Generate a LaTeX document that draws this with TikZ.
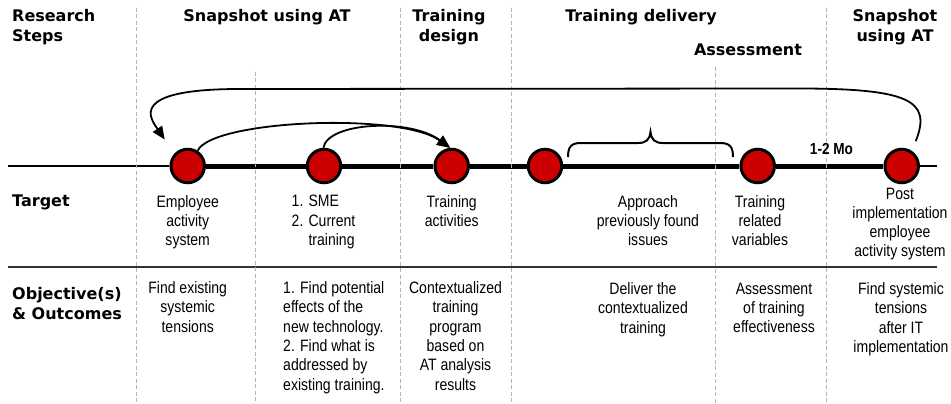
\documentclass[tikz,border=0pt]{standalone}
\usepackage{fontspec}
\setmainfont{Liberation Sans}
\newfontfamily\narrowfont[FakeStretch=0.85]{Liberation Sans}
\newfontfamily\headfont{DejaVu Sans}
\usetikzlibrary{arrows.meta}
\definecolor{dotred}{HTML}{CC0000}
\definecolor{gridcol}{HTML}{A9B6C8}
\definecolor{sepcol}{HTML}{333333}
\tikzset{
  hdr/.style={font=\headfont\bfseries\fontsize{16}{20}\selectfont, inner sep=0pt, align=center, anchor=north},
  lbl/.style={hdr, align=left, anchor=north west},
  body/.style={font=\narrowfont\fontsize{16.5}{19.3}\selectfont, inner sep=0pt, align=center, anchor=north},
  bodyleft/.style={body, align=left, anchor=north west},
  dot/.style={circle, draw=black, line width=3pt, fill=dotred, minimum size=33.5pt, inner sep=0pt},
  gridline/.style={draw=gridcol, line width=0.9pt, dash pattern=on 4pt off 2.5pt},
  flow/.style={draw, line width=1.8pt, -{Triangle[length=13pt,width=11pt]}},
}
\begin{document}
\begin{tikzpicture}[x=1pt,y=-1pt]
\useasboundingbox (0,0) rectangle (951,404);
\fill[white] (0,0) rectangle (951,404);

% milestones
\node[dot] (c1) at (187.7,166) {};
\node[dot] (c2) at (324,166) {};
\node[dot] (c3) at (451.7,166) {};
\node[dot] (c4) at (545,166) {};
\node[dot] (c5) at (757.7,166) {};
\node[dot] (c6) at (901.7,166) {};
\coordinate (tlL) at (8,166);
\coordinate (tlR) at (937,166);
\coordinate (sepL) at (8,267);
\coordinate (sepR) at (937,267);

% timeline
\draw[line width=1.5pt] (tlL) -- (c1);
\draw[line width=5pt] (c1) -- (c2) -- (c3) -- (c4) -- (c5) -- (c6);
\draw[line width=1.5pt] (c6) -- (tlR);
% separator
\draw[sepcol, line width=2.5pt] (sepL) -- (sepR);

% dashed column lines
\draw[gridline] (136,8) -- (136,404);
\draw[gridline] (255,72) -- (255,404);
\draw[gridline] (400,8) -- (400,404);
\draw[gridline] (511,8) -- (511,404);
\draw[gridline] (715,67) -- (715,404);
\draw[gridline] (826,8) -- (826,404);

% headers
\node[lbl] (hRS) at (12,9.5) {Research\\Steps};
\node[hdr] (hS1) at (267,9.5) {Snapshot using AT};
\node[hdr] (hTD) at (449,9.5) {Training\\design};
\node[hdr] (hTDel) at (641,9.5) {Training delivery};
\node[hdr] (hAs) at (748,43.5) {Assessment};
\node[hdr] (hS2) at (895,9.5) {Snapshot\\using AT};
\node[lbl] (hTa) at (12,194.3) {Target};
\node[lbl, font=\headfont\bfseries\fontsize{16}{19.5}\selectfont] (hOb) at (12,287.5) {Objective(s)\\\& Outcomes};

% target row
\node[body] (t1) at (187.7,195) {Employee\\activity\\system};
\node[bodyleft] (t2) at (291.5,195) {1. SME\\2. Current\\\phantom{2. }training};
\node[body] (t3) at (451.7,195) {Training\\activities};
\node[body] (t4) at (648,195) {Approach\\previously found\\issues};
\node[body] (t5) at (760,195) {Training\\related\\variables};
\node[body] (t6) at (900,187.5) {Post\\implementation\\employee\\activity system};

% objective row
\node[body] (o1) at (187.7,281.5) {Find existing\\systemic\\tensions};
\node[bodyleft] (o2) at (283,281.5) {1. Find potential\\effects of the\\new technology.\\2. Find what is\\addressed by\\existing training.};
\node[body] (o3) at (455.5,281.5) {Contextualized\\training\\program\\based on\\AT analysis\\results};
\node[body] (o4) at (643,282.5) {Deliver the\\contextualized\\training};
\node[body] (o5) at (774,282.5) {Assessment\\of training\\effectiveness};
\node[body] (o6) at (901,282.5) {Find systemic\\tensions\\after IT\\implementation};

% duration label
\node[font=\narrowfont\bfseries\fontsize{16}{19}\selectfont, inner sep=0pt, anchor=base] (mo) at (831.5,154) {1-2 Mo};

% brace over training delivery
\draw[line width=2pt] (568,157) .. controls (568,147) and (571,143) .. (581,143) -- (638,143)
  .. controls (646,143) and (649.5,140) .. (650.5,132)
  .. controls (651.5,140) and (655,143) .. (663,143) -- (720,143)
  .. controls (730,143) and (733,147) .. (733,157);

% arrows
\draw[flow, shorten <=10.5pt, shorten >=17pt] (c6.56) .. controls (932,100) and (910,88) .. (790,88.5)
  -- (240,89) .. controls (128,89) and (150,118) .. (c1.137);
\draw[flow] (c1.57) .. controls (212,120) and (400,112) .. (c3.95);
\draw[flow] (c2.92) .. controls (328,122) and (410,118) .. (c3.95);
\end{tikzpicture}
\end{document}
